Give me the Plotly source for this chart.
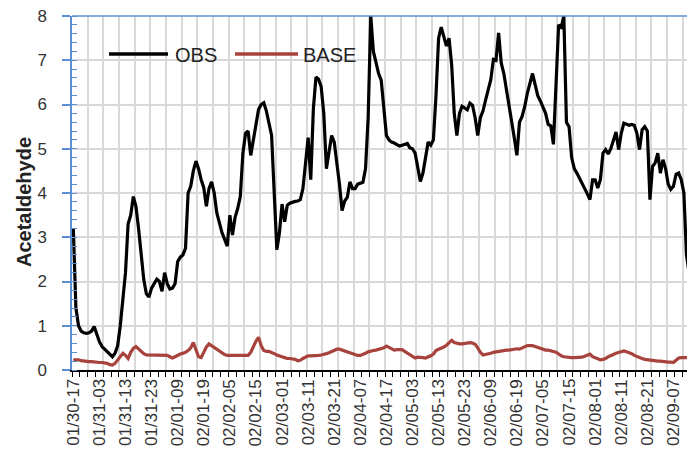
import plotly.graph_objects as go

# Hourly acetaldehyde series, one value per hour starting 01/30 17:00
OBS = [
    3.2, 1.4, 1.0, 0.88, 0.84, 0.83, 0.84, 0.88, 0.98, 0.8,
    0.64, 0.53, 0.47, 0.42, 0.36, 0.3, 0.38, 0.55, 1.0, 1.6,
    2.2, 3.3, 3.5, 3.92, 3.7, 3.2, 2.55, 2.05, 1.72, 1.65,
    1.85, 1.97, 2.05, 2.0, 1.78, 2.2, 1.95, 1.83, 1.85, 1.95,
    2.45, 2.55, 2.6, 2.75, 4.0, 4.15, 4.5, 4.72, 4.55, 4.3,
    4.12, 3.7, 4.1, 4.25, 4.0, 3.55, 3.3, 3.1, 2.95, 2.8,
    3.5, 3.05, 3.45, 3.65, 3.92, 4.9, 5.35, 5.4, 4.85, 5.2,
    5.6, 5.89, 6.0, 6.04, 5.85, 5.6, 5.3, 4.0, 2.72, 3.1,
    3.75, 3.35, 3.72, 3.77, 3.8, 3.81, 3.82, 3.85, 4.1, 4.65,
    5.25, 4.3, 5.9, 6.62, 6.57, 6.4, 5.8, 4.55, 4.95, 5.3,
    5.15, 4.7, 4.2, 3.6, 3.82, 3.9, 4.25, 4.1, 4.1, 4.2,
    4.23, 4.24, 4.55, 5.7, 8.0, 7.2, 6.95, 6.7, 6.55, 5.9,
    5.3, 5.2, 5.15, 5.13, 5.1, 5.06, 5.08, 5.1, 5.12, 5.02,
    5.0, 4.9, 4.6, 4.26, 4.45, 4.8, 5.15, 5.08, 5.2, 6.2,
    7.5, 7.75, 7.55, 7.32, 7.5, 6.9, 5.8, 5.3, 5.8, 5.96,
    5.92, 5.88, 6.03, 5.98, 5.7, 5.3, 5.7, 5.85, 6.1, 6.35,
    6.56, 7.02, 7.0, 7.62, 6.94, 6.7, 6.35, 6.05, 5.7, 5.25,
    4.85, 5.6, 5.73, 5.95, 6.25, 6.48, 6.7, 6.45, 6.2, 6.08,
    5.96, 5.8, 5.55, 5.52, 5.1, 6.5, 7.8, 7.75, 8.0, 5.6,
    5.5, 4.8, 4.55, 4.45, 4.34, 4.22, 4.1, 3.98, 3.85, 4.3,
    4.3, 4.11, 4.3, 4.9, 4.98, 4.88, 5.0, 5.2, 5.38, 4.98,
    5.35, 5.58, 5.55, 5.53, 5.55, 5.53, 5.35, 4.98, 5.43, 5.5,
    5.4, 3.85, 4.6, 4.68, 4.9, 4.45, 4.75, 4.55, 4.2, 4.08,
    4.15, 4.42, 4.45, 4.3, 4.0, 2.6, 2.19,
]

BASE = [
    0.23, 0.23, 0.23, 0.21, 0.2, 0.19, 0.19, 0.19, 0.18, 0.18,
    0.17, 0.17, 0.16, 0.15, 0.12, 0.11, 0.15, 0.22, 0.3, 0.38,
    0.33, 0.26, 0.4, 0.49, 0.53, 0.47, 0.41, 0.37, 0.34, 0.34,
    0.34, 0.34, 0.34, 0.34, 0.34, 0.34, 0.33, 0.3, 0.27, 0.3,
    0.34, 0.36, 0.38, 0.4, 0.44, 0.5, 0.62, 0.45, 0.3, 0.28,
    0.4, 0.52, 0.59, 0.55, 0.5, 0.45, 0.41, 0.38, 0.35, 0.33,
    0.33, 0.33, 0.33, 0.33, 0.33, 0.33, 0.33, 0.33, 0.4, 0.53,
    0.65, 0.74, 0.55, 0.44, 0.42, 0.42, 0.4, 0.37, 0.34, 0.31,
    0.3, 0.28, 0.26, 0.26, 0.25, 0.24, 0.21, 0.22, 0.26, 0.3,
    0.32, 0.32, 0.32, 0.32, 0.33, 0.34, 0.35, 0.37, 0.39, 0.42,
    0.45, 0.47, 0.47, 0.45, 0.42, 0.4, 0.38, 0.36, 0.34, 0.33,
    0.33, 0.35, 0.38, 0.41, 0.43, 0.44, 0.45, 0.47, 0.49, 0.5,
    0.54, 0.51, 0.47, 0.45, 0.46, 0.46, 0.46, 0.42, 0.38, 0.34,
    0.3, 0.27, 0.29, 0.29, 0.28, 0.27, 0.29, 0.32, 0.36, 0.44,
    0.47, 0.49, 0.52, 0.56, 0.62, 0.67, 0.62, 0.6, 0.59, 0.59,
    0.6, 0.61, 0.62, 0.61, 0.58, 0.5, 0.4, 0.34, 0.35, 0.37,
    0.38, 0.4, 0.41, 0.43, 0.44, 0.44, 0.45, 0.45, 0.46, 0.47,
    0.48, 0.47, 0.5, 0.54, 0.55, 0.55, 0.55, 0.53, 0.51, 0.5,
    0.47, 0.45, 0.45, 0.44, 0.42, 0.4, 0.35, 0.32, 0.3, 0.29,
    0.28, 0.28, 0.28, 0.28, 0.28, 0.29, 0.31, 0.33, 0.36, 0.3,
    0.27, 0.25, 0.23, 0.24, 0.26, 0.3, 0.32, 0.35, 0.38, 0.4,
    0.42, 0.43, 0.41, 0.39, 0.37, 0.33, 0.3, 0.28, 0.26, 0.24,
    0.23, 0.22, 0.21, 0.2, 0.2, 0.2, 0.19, 0.19, 0.18, 0.18,
    0.17, 0.22, 0.27, 0.28, 0.28, 0.28, 0.28,
]

# Category labels shown every 10 hours
TICK_LABELS = [
    "01/30-17", "01/31-03", "01/31-13", "01/31-23", "02/01-09", "02/01-19",
    "02/02-05", "02/02-15", "02/03-01", "02/03-11", "02/03-21", "02/04-07",
    "02/04-17", "02/05-03", "02/05-13", "02/05-23", "02/06-09", "02/06-19",
    "02/07-05", "02/07-15", "02/08-01", "02/08-11", "02/08-21", "02/09-07",
]
LABEL_STEP = 10

hours = list(range(len(OBS)))
label_pos = [i * LABEL_STEP for i in range(len(TICK_LABELS))]

W, H = 687, 476
ML, MR, MT, MB = 72, 0, 16, 106
PW, PH = W - ML - MR, H - MT - MB
X_RANGE = [-0.5, 235.2]

BLUE = "#5B8FD1"
GRID = "#D9D9D9"
RED = "#A8423D"
TXT = "#333333"
FONT = "Liberation Sans, Arial, sans-serif"


def fx(px):
    return (px - ML) / PW


def fy(py):
    return (H - MB - py) / PH


fig = go.Figure()
fig.add_trace(go.Scatter(x=hours, y=OBS, mode="lines", name="OBS",
                         line=dict(color="black", width=3.2)))
fig.add_trace(go.Scatter(x=hours, y=BASE, mode="lines", name="BASE",
                         line=dict(color=RED, width=3.2)))

# hour labels under the axis, placed at their category positions
label_annotations = [
    dict(text=lab, xref="x", yref="paper", x=pos, y=0,
         xanchor="center", yanchor="top", yshift=-7, textangle=-90,
         showarrow=False, font=dict(size=17, color=TXT))
    for pos, lab in zip(label_pos, TICK_LABELS)
]

fig.update_layout(
    width=W, height=H,
    margin=dict(l=ML, r=MR, t=MT, b=MB, pad=0),
    paper_bgcolor="white", plot_bgcolor="white",
    showlegend=False,
    font=dict(family=FONT, color=TXT),
    xaxis=dict(
        range=X_RANGE, tickmode="linear", tick0=-0.5, dtick=6,
        ticks="outside", ticklen=5, tickwidth=1.3, tickcolor="black",
        showticklabels=False,
        showgrid=True, gridcolor=GRID, gridwidth=1.5, zeroline=False,
        showline=True, linecolor="black", linewidth=1.5,
        minor=dict(tick0=-0.5, dtick=3, ticks="outside", ticklen=5,
                   tickwidth=1.3, tickcolor="black", showgrid=False),
    ),
    yaxis=dict(
        range=[0, 8], tickmode="linear", tick0=0, dtick=1,
        ticks="outside", ticklen=8, tickwidth=1.5, tickcolor=BLUE,
        tickfont=dict(size=17, color=TXT), ticklabelstandoff=12,
        showgrid=True, gridcolor=GRID, gridwidth=1.5, zeroline=False,
        showline=True, linecolor=BLUE, linewidth=1.5,
        minor=dict(tick0=0, dtick=0.2, ticks="inside",
                   ticklen=5, tickwidth=1.3, tickcolor=BLUE, showgrid=False),
    ),
    shapes=[
        # top border of the plot area
        dict(type="line", xref="paper", yref="paper", x0=0, x1=1, y0=1, y1=1,
             line=dict(color=BLUE, width=1.5)),
        # legend keys
        dict(type="line", xref="paper", yref="paper", x0=fx(109), x1=fx(168),
             y0=fy(54), y1=fy(54), line=dict(color="black", width=3.5)),
        dict(type="line", xref="paper", yref="paper", x0=fx(235), x1=fx(298),
             y0=fy(54), y1=fy(54), line=dict(color=RED, width=3.5)),
    ],
    annotations=label_annotations + [
        dict(text="OBS", xref="paper", yref="paper", x=fx(173), y=fy(55),
             xanchor="left", yanchor="middle", showarrow=False,
             font=dict(size=20, color="#222222")),
        dict(text="BASE", xref="paper", yref="paper", x=fx(301), y=fy(55),
             xanchor="left", yanchor="middle", showarrow=False,
             font=dict(size=20, color="#222222")),
        dict(text="<b>Acetaldehyde</b>", xref="paper", yref="paper",
             x=fx(24), y=fy(202), xanchor="center", yanchor="middle",
             textangle=-90, showarrow=False,
             font=dict(size=20, color="#222222")),
    ],
)

fig.write_html("out.html")
